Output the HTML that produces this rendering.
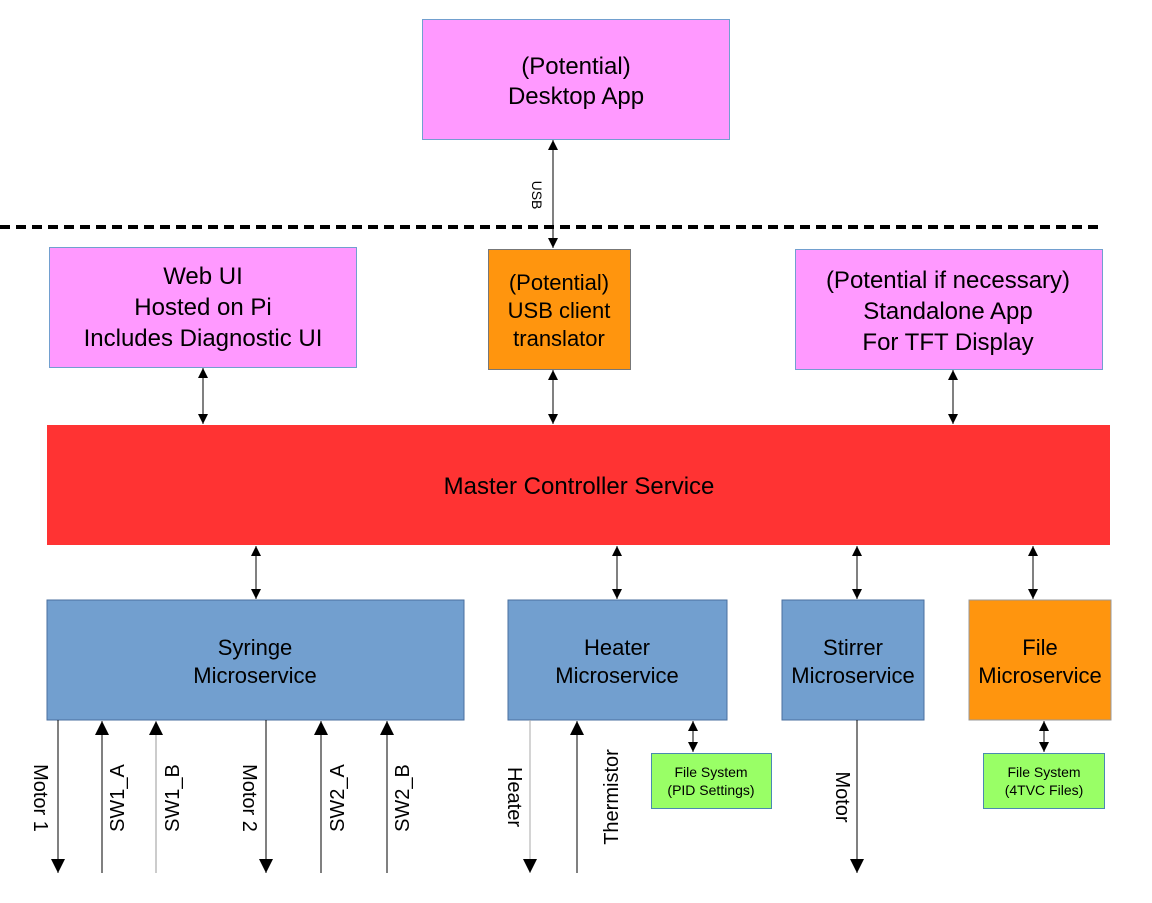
<!DOCTYPE html>
<html><head><meta charset="utf-8"><style>
html,body{margin:0;padding:0;background:#fff}
svg text{font-family:"Liberation Sans",sans-serif;fill:#000}
</style></head><body>
<svg width="1152" height="898" viewBox="0 0 1152 898" xmlns="http://www.w3.org/2000/svg">
<defs>
<marker id="a" viewBox="0 0 10 10" refX="10" refY="5" markerWidth="10" markerHeight="10" markerUnits="userSpaceOnUse" orient="auto-start-reverse"><path d="M0,0L10,5L0,10z" fill="#000"/></marker>
<marker id="b" viewBox="0 0 10 10" refX="10" refY="5" markerWidth="18" markerHeight="14" markerUnits="userSpaceOnUse" orient="auto-start-reverse"><path d="M0,0L10,5L0,10z" fill="#000"/></marker>
</defs>
<g stroke="#729fcf" stroke-width="1">
<rect x="422.5" y="19.5" width="307" height="120" fill="#ff99ff"/>
<rect x="49.5" y="247.5" width="307" height="120" fill="#ff99ff"/>
<rect x="488.5" y="249.5" width="142" height="120" fill="#ff950e" stroke="#777"/>
<rect x="795.5" y="249.5" width="307" height="120" fill="#ff99ff"/>
<rect x="47" y="425" width="1063" height="120" fill="#ff3333" stroke="none"/>
<rect x="47" y="600" width="417" height="120" fill="#729fcf" stroke="#4a6f9f"/>
<rect x="508" y="600" width="219" height="120" fill="#729fcf" stroke="#4a6f9f"/>
<rect x="782" y="600" width="142" height="120" fill="#729fcf" stroke="#4a6f9f"/>
<rect x="969" y="600" width="142" height="120" fill="#ff950e" stroke="#999"/>
<rect x="651.5" y="753.5" width="120" height="55" fill="#99ff66" stroke="#4a8ab0"/>
<rect x="983.5" y="753.5" width="121" height="55" fill="#99ff66" stroke="#4a8ab0"/>
</g>
<line x1="0" y1="227" x2="1102" y2="227" stroke="#000" stroke-width="4" stroke-dasharray="10,6"/>
<g stroke="#000" stroke-width="1" fill="none">
<line x1="553" y1="140" x2="553" y2="248" marker-start="url(#a)" marker-end="url(#a)"/>
<line x1="203" y1="368" x2="203" y2="424" marker-start="url(#a)" marker-end="url(#a)"/>
<line x1="553" y1="370" x2="553" y2="424" marker-start="url(#a)" marker-end="url(#a)"/>
<line x1="953" y1="370" x2="953" y2="424" marker-start="url(#a)" marker-end="url(#a)"/>
<line x1="256" y1="546" x2="256" y2="599" marker-start="url(#a)" marker-end="url(#a)"/>
<line x1="617" y1="546" x2="617" y2="599" marker-start="url(#a)" marker-end="url(#a)"/>
<line x1="857" y1="546" x2="857" y2="599" marker-start="url(#a)" marker-end="url(#a)"/>
<line x1="1033" y1="546" x2="1033" y2="599" marker-start="url(#a)" marker-end="url(#a)"/>
<line x1="693" y1="721" x2="693" y2="752" marker-start="url(#a)" marker-end="url(#a)"/>
<line x1="1044" y1="721" x2="1044" y2="752" marker-start="url(#a)" marker-end="url(#a)"/>
<line x1="58" y1="720" x2="58" y2="873" marker-end="url(#b)"/>
<line x1="102" y1="873" x2="102" y2="721" marker-end="url(#b)"/>
<line x1="156" y1="873" x2="156" y2="721" marker-end="url(#b)" stroke="#999"/>
<line x1="266" y1="720" x2="266" y2="873" marker-end="url(#b)"/>
<line x1="321" y1="873" x2="321" y2="721" marker-end="url(#b)"/>
<line x1="387" y1="873" x2="387" y2="721" marker-end="url(#b)"/>
<line x1="530" y1="720" x2="530" y2="873" marker-end="url(#b)" stroke="#aaa"/>
<line x1="577" y1="873" x2="577" y2="721" marker-end="url(#b)"/>
<line x1="857" y1="720" x2="857" y2="873" marker-end="url(#b)"/>
</g>
<g font-size="24" text-anchor="middle">
<text x="576" y="74">(Potential)</text>
<text x="576" y="104">Desktop App</text>
<text x="203" y="284">Web UI</text>
<text x="203" y="315">Hosted on Pi</text>
<text x="203" y="346">Includes Diagnostic UI</text>
<text x="559" y="290" font-size="22">(Potential)</text>
<text x="559" y="318" font-size="22">USB client</text>
<text x="559" y="346" font-size="22">translator</text>
<text x="948" y="288">(Potential if necessary)</text>
<text x="948" y="319">Standalone App</text>
<text x="948" y="350">For TFT Display</text>
<text x="579" y="494">Master Controller Service</text>
<text x="255" y="655" font-size="22">Syringe</text>
<text x="255" y="683" font-size="22">Microservice</text>
<text x="617" y="655" font-size="22">Heater</text>
<text x="617" y="683" font-size="22">Microservice</text>
<text x="853" y="655" font-size="22">Stirrer</text>
<text x="853" y="683" font-size="22">Microservice</text>
<text x="1040" y="655" font-size="22">File</text>
<text x="1040" y="683" font-size="22">Microservice</text>
<text x="711" y="777" font-size="14">File System</text>
<text x="711" y="795" font-size="14">(PID Settings)</text>
<text x="1044" y="777" font-size="14">File System</text>
<text x="1044" y="795" font-size="14">(4TVC Files)</text>
</g>
<g font-size="20" text-anchor="middle">
<text transform="translate(532,195) rotate(90)" font-size="14">USB</text>
<text transform="translate(34,798) rotate(90)">Motor 1</text>
<text transform="translate(124,798) rotate(-90)">SW1_A</text>
<text transform="translate(179,798) rotate(-90)">SW1_B</text>
<text transform="translate(243,798) rotate(90)">Motor 2</text>
<text transform="translate(344,798) rotate(-90)">SW2_A</text>
<text transform="translate(409,798) rotate(-90)">SW2_B</text>
<text transform="translate(508,797) rotate(90)">Heater</text>
<text transform="translate(618,797) rotate(-90)">Thermistor</text>
<text transform="translate(836,797) rotate(90)">Motor</text>
</g>
</svg>
</body></html>
